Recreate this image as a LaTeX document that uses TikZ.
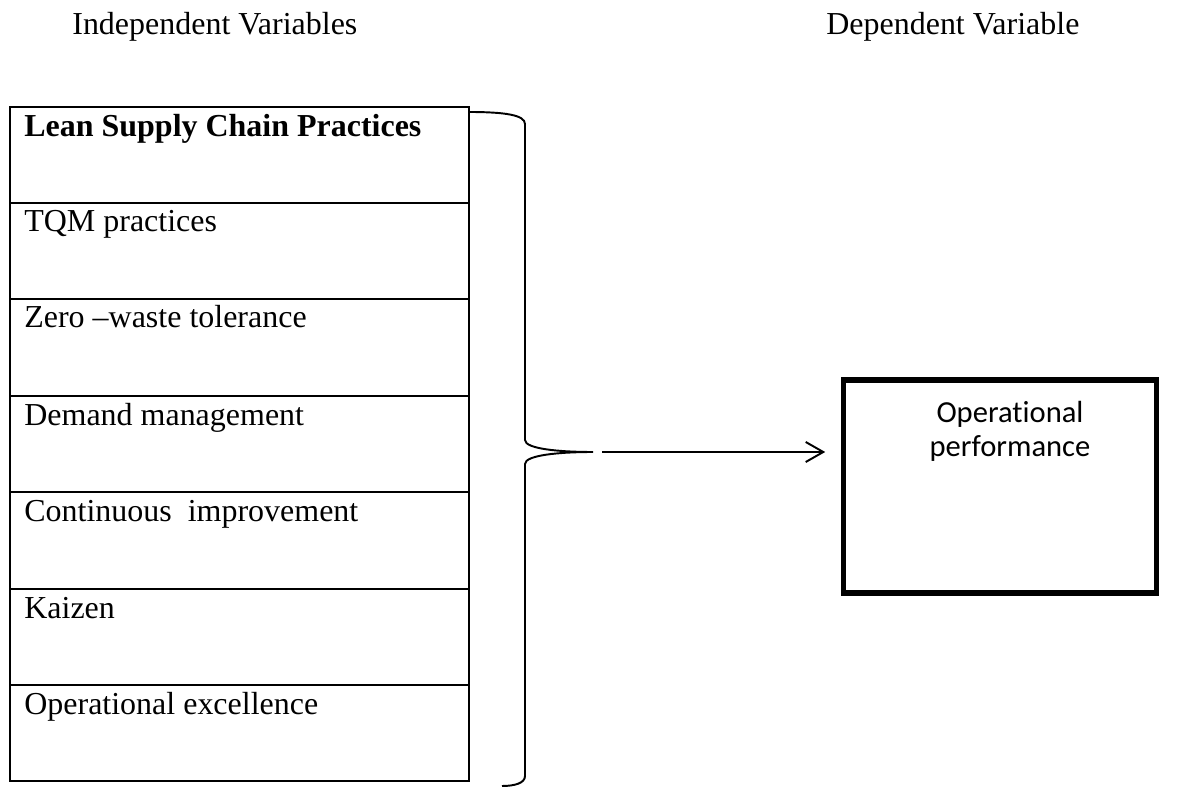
\documentclass[tikz,border=0pt]{standalone}
\usepackage{fontspec}
\setmainfont{Liberation Serif}
\newfontfamily\calibrifont{Carlito}[Ligatures=NoCommon]
\usetikzlibrary{arrows.meta}

\tikzset{
  rowtext/.style={anchor=base west, inner sep=0pt},
  tableline/.style={line width=1.4pt},
  perfbox/.style={draw, line width=2.9pt, minimum width=6.25cm, minimum height=4.26cm, inner sep=0pt}
}

\begin{document}
\begin{tikzpicture}[x=0.02cm,y=-0.02cm,font=\fontsize{18.2}{22}\selectfont]
  \useasboundingbox (0,0) rectangle (1184,787);

  \node[rowtext] (indep) at (72,35) {Independent Variables};
  \node[rowtext] (dep) at (826,35) {Dependent Variable};

  % table of the practices
  \draw[tableline] (10,107) rectangle (469,781);
  \foreach \y in {203,299,396,492,589,685}
    \draw[tableline] (10,\y)--(469,\y);

  \node[rowtext] (lscp) at (24,137) {\textbf{Lean Supply Chain Practices}};
  \node[rowtext] (tqm) at (24,232) {TQM practices};
  \node[rowtext] (zero) at (24,328) {Zero --waste tolerance};
  \node[rowtext] (demand) at (24,425) {Demand management};
  \node[rowtext] (contimp) at (24,521) {Continuous\ \ improvement};
  \node[rowtext] (kaizen) at (24,618) {Kaizen};
  \node[rowtext] (opex) at (24,714) {Operational excellence};

  % brace
  \draw[line width=1.1pt] (469,112) .. controls (505,112) and (525,115) .. (525,124)
    -- (525,440) .. controls (525,449) and (560,452) .. (593,452)
    .. controls (560,452) and (525,455) .. (525,464)
    -- (525,776) .. controls (525,783) and (515,786) .. (502,786);

  \coordinate (tip) at (602,452);

  \node[perfbox] (perf) at (1000,486.5) {};
  \node[anchor=north, align=center, inner sep=0pt,
        font=\calibrifont\fontsize{17.4}{19.4}\selectfont] (perftext) at (1010,401) {Operational\\performance};

  \draw[line width=1.1pt, -{Straight Barb[length=10pt,width=11.4pt]}, shorten >=0.32cm]
    (tip) -- (tip -| perf.west);

\end{tikzpicture}
\end{document}
